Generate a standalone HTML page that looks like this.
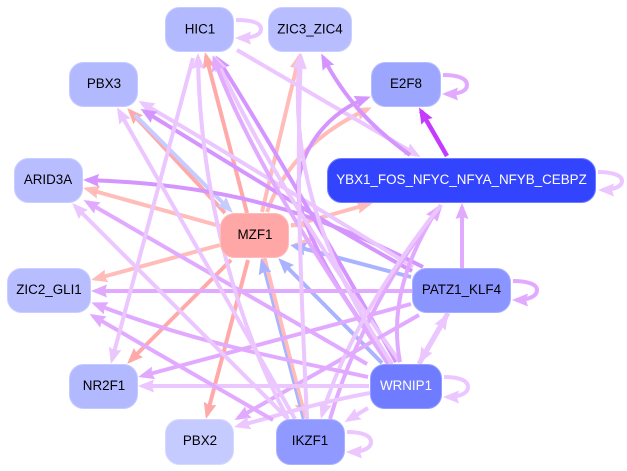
<!DOCTYPE html>
<html><head><meta charset="utf-8"><style>
html,body{margin:0;padding:0;background:#fff;width:627px;height:471px;overflow:hidden}
svg{display:block}
text{font-family:"Liberation Sans",sans-serif;font-size:13.4px;text-anchor:middle}
path{fill:none;stroke-width:4}
.p{stroke:#ebc6ff;marker-end:url(#mp)}.m{stroke:#e2aaff;marker-end:url(#mm)}.d{stroke:#d595ff;marker-end:url(#md)}
.s{stroke:#c43aff;marker-end:url(#ms);stroke-width:4.500}.r{stroke:#ffa9a9;marker-end:url(#mr)}.q{stroke:#ffbcb8;marker-end:url(#mq)}
.b{stroke:#aab3ff;marker-end:url(#mb)}.l{stroke:#c6ccff;marker-end:url(#ml)}
rect{stroke-width:1;rx:14px;ry:14px}
</style></head><body>
<svg width="627" height="471" viewBox="0 0 627 471" xmlns="http://www.w3.org/2000/svg">
<defs>
<marker id="mp" markerUnits="userSpaceOnUse" markerWidth="17" markerHeight="14" refX="12" refY="7" orient="auto"><polygon points="0,0.500 16,7 0,13.500 2,7" fill="#ebc6ff"/></marker>
<marker id="mm" markerUnits="userSpaceOnUse" markerWidth="17" markerHeight="14" refX="12" refY="7" orient="auto"><polygon points="0,0.500 16,7 0,13.500 2,7" fill="#e2aaff"/></marker>
<marker id="md" markerUnits="userSpaceOnUse" markerWidth="17" markerHeight="14" refX="12" refY="7" orient="auto"><polygon points="0,0.500 16,7 0,13.500 2,7" fill="#d595ff"/></marker>
<marker id="ms" markerUnits="userSpaceOnUse" markerWidth="17" markerHeight="14" refX="12" refY="7" orient="auto"><polygon points="0,0.500 16,7 0,13.500 2,7" fill="#c43aff"/></marker>
<marker id="mr" markerUnits="userSpaceOnUse" markerWidth="17" markerHeight="14" refX="12" refY="7" orient="auto"><polygon points="0,0.500 16,7 0,13.500 2,7" fill="#ffa9a9"/></marker>
<marker id="mq" markerUnits="userSpaceOnUse" markerWidth="17" markerHeight="14" refX="12" refY="7" orient="auto"><polygon points="0,0.500 16,7 0,13.500 2,7" fill="#ffbcb8"/></marker>
<marker id="mb" markerUnits="userSpaceOnUse" markerWidth="17" markerHeight="14" refX="12" refY="7" orient="auto"><polygon points="0,0.500 16,7 0,13.500 2,7" fill="#aab3ff"/></marker>
<marker id="ml" markerUnits="userSpaceOnUse" markerWidth="17" markerHeight="14" refX="12" refY="7" orient="auto"><polygon points="0,0.500 16,7 0,13.500 2,7" fill="#c6ccff"/></marker>
</defs>

<!-- self loops -->
<path class="p" d="M236,20 C250,20 261,22 261,29 C261,36 250,38 239,38"/>
<path class="m" d="M443,75 C457,75 467,78 467,85 C467,92 457,94 446,94"/>
<path class="p" d="M598,172 C612,172 622,175 622,181 C622,187 612,190 602,190"/>
<path class="m" d="M513,281 C527,281 537,284 537,290 C537,297 527,300 516,300"/>
<path class="p" d="M444,377 C458,377 468,380 468,387 C468,394 458,397 447,397"/>
<path class="p" d="M347,432 C361,432 371,435 371,442 C371,449 361,452 350,452"/>
<path class="q" style="marker-end:none" d="M291,225 C300,225 306,225 310,227"/>
<path class="q" d="M312,238 C306,243 300,245 295,245"/>

<!-- salmon / blue -->
<path class="q" style="stroke-width:5" d="M264,258 L304,415"/>
<path class="b" style="stroke-width:2.500" d="M303,419 L262,262"/>
<path class="q" d="M262,212 L299,57"/>
<path class="q" d="M267,212 C280,175 310,135 368,109"/>
<path class="r" d="M247,213 L206,56"/>
<path class="r" d="M225,213 L130,111"/>
<path class="l" d="M135,115 L230,210"/>
<path class="q" d="M220,226 L87,189"/>
<path class="q" d="M220,245 L95,279"/>
<path class="r" d="M231,260 L130,361"/>
<path class="r" d="M248,260 L207,415"/>
<path class="q" d="M291,226 L369,204"/>
<path class="b" d="M411,277 L294,246"/>
<path class="b" d="M382,363 L281,261"/>

<!-- pale & purple long edges -->
<path class="p" d="M237,50 L417,155"/>
<path class="d" d="M410,155 C375,130 345,100 323,57"/>
<path class="s" d="M447,156 L421,111"/>
<path class="d" d="M392,364 C350,310 312,250 300,205 C290,165 320,115 367,98"/>
<path class="d" d="M423,267 C340,225 250,185 87,180"/>
<path class="p" d="M413,267 C340,222 240,160 142,103"/>
<path class="d" d="M412,271 C340,232 240,170 144,111"/>
<path class="d" d="M396,362 C350,280 275,150 218,59"/>
<path class="p" d="M400,362 C345,285 265,165 216,59"/>
<path class="m" d="M388,364 C340,290 255,170 214,59"/>
<path class="m" d="M412,291 L95,291"/>
<path class="m" d="M411,304 L142,376"/>
<path class="m" d="M419,315 L238,418"/>
<path class="m" d="M462,268 L462,207"/>
<path class="p" style="stroke-width:5" d="M448,313 L421,360"/>
<path class="p" style="stroke-width:5" d="M419,364 L446,317"/>
<path class="m" d="M400,362 C390,310 405,260 438,208"/>
<path class="m" d="M330,419 C350,350 390,270 440,208"/>
<path class="p" d="M441,205 C390,270 345,340 322,415"/>
<path class="m" d="M368,377 C300,362 200,345 95,304"/>
<path class="p" d="M369,386 L142,386"/>
<path class="p" d="M370,393 C320,402 280,415 238,426"/>
<path class="p" d="M368,408 L348,420"/>
<path class="p" d="M287,418 L75,206"/>
<path class="m" d="M367,364 L87,202"/>
<path class="m" d="M273,420 L93,316"/>
<path class="p" d="M295,419 L119,111"/>
<path class="p" d="M193,58 L112,360"/>
<path class="p" d="M288,419 C240,330 200,200 198,57"/>
<path class="p" d="M307,419 C303,330 295,180 301,57"/>
<path class="p" d="M392,364 C350,300 285,190 300,57"/>

<!-- nodes -->
<rect x="165.500" y="7.500" width="68" height="44" fill="#b2b9ff" stroke="#c6cbff"/>
<rect x="268.500" y="7.500" width="83" height="44" fill="#b7bdff" stroke="#c9cdff"/>
<rect x="69.500" y="62.500" width="68" height="44" fill="#b2b9ff" stroke="#c6cbff"/>
<rect x="371.500" y="62.500" width="69" height="44" fill="#9da6ff" stroke="#b6bdff"/>
<rect x="14.500" y="158.500" width="68" height="44" fill="#b7bdff" stroke="#c9cdff"/>
<rect x="327.500" y="158.500" width="268" height="44" fill="#3344ff" stroke="#6f7cff"/>
<rect x="220.500" y="213.500" width="68" height="44" fill="#ffa6a6" stroke="#ffbcbc"/>
<rect x="7.500" y="268.500" width="83" height="44" fill="#b7bdff" stroke="#c9cdff"/>
<rect x="412.500" y="268.500" width="98" height="44" fill="#8a95ff" stroke="#a6afff"/>
<rect x="69.500" y="364.500" width="68" height="44" fill="#b2b9ff" stroke="#c6cbff"/>
<rect x="370.500" y="364.500" width="71" height="44" fill="#6f7cff" stroke="#929bff"/>
<rect x="165.500" y="419.500" width="68" height="45" fill="#c5caff" stroke="#d6d9ff"/>
<rect x="276.500" y="419.500" width="68" height="45" fill="#8f99ff" stroke="#aab2ff"/>

<text x="200" y="33.500">HIC1</text>
<text x="310" y="33.500">ZIC3_ZIC4</text>
<text x="104" y="88">PBX3</text>
<text x="406" y="88">E2F8</text>
<text x="48" y="184">ARID3A</text>
<text x="461.500" y="184" fill="#fff">YBX1_FOS_NFYC_NFYA_NFYB_CEBPZ</text>
<text x="255" y="239">MZF1</text>
<text x="49" y="294">ZIC2_GLI1</text>
<text x="461.500" y="294">PATZ1_KLF4</text>
<text x="104" y="390">NR2F1</text>
<text x="406" y="390" fill="#fff">WRNIP1</text>
<text x="200" y="445">PBX2</text>
<text x="310" y="445">IKZF1</text>
</svg>
</body></html>
